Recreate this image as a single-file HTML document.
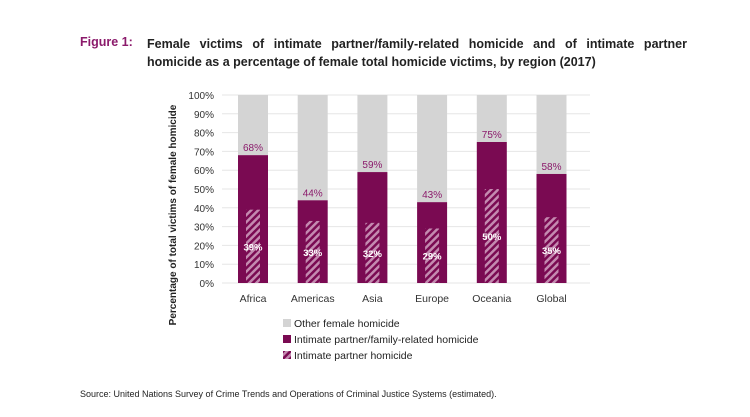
<!DOCTYPE html>
<html><head><meta charset="utf-8"><style>
body{margin:0;width:750px;height:417px;background:#fff;font-family:"Liberation Sans",sans-serif;overflow:hidden;position:relative}
.t{position:absolute;font-size:12.5px;font-weight:bold;color:#222}
</style></head><body>
<div class="t" style="left:80px;top:35px;color:#8b1a6b">Figure 1:</div>
<div class="t" style="left:147px;top:35px;width:540px;line-height:18px;text-align:justify">Female victims of intimate partner/family-related homicide and of intimate partner homicide as a percentage of female total homicide victims, by region (2017)</div>
<svg width="750" height="417" style="position:absolute;left:0;top:0">
<defs><pattern id="h" width="5" height="5" patternUnits="userSpaceOnUse" patternTransform="rotate(45)"><rect width="5" height="5" fill="#7a0a52"/><rect width="2.5" height="5" fill="#c48ab0"/></pattern></defs>
<g id="g"></g>
<text x="0" y="0" transform="translate(176,215) rotate(-90)" text-anchor="middle" font-size="10" font-weight="bold" fill="#222">Percentage of total victims of female homicide</text>
<g font-size="10.5" fill="#222">
<rect x="283" y="319" width="8" height="8" fill="#d4d4d4"/><text x="294" y="327">Other female homicide</text>
<rect x="283" y="335" width="8" height="8" fill="#7a0a52"/><text x="294" y="343">Intimate partner/family-related homicide</text>
<rect x="283" y="351" width="8" height="8" fill="url(#h)"/><text x="294" y="359">Intimate partner homicide</text>
</g>
<text x="80" y="397" font-size="9" fill="#222">Source: United Nations Survey of Crime Trends and Operations of Criminal Justice Systems (estimated).</text>
</svg>
<script>
const categories=["Africa","Americas","Asia","Europe","Oceania","Global"];
const familyValues=[68,44,59,43,75,58];
const partnerValues=[39,33,32,29,50,35];
const yTicks=[0,10,20,30,40,50,60,70,80,90,100];
const NS="http://www.w3.org/2000/svg",g=document.getElementById('g');
const y=v=>283-v*1.88, x=i=>253+i*59.7;
function el(t,a,txt){const e=document.createElementNS(NS,t);for(const k in a)e.setAttribute(k,a[k]);if(txt!=null)e.textContent=txt;g.appendChild(e);return e;}
yTicks.forEach(v=>{
const l=el('line',{x1:222,x2:590,y1:y(v),y2:y(v),stroke:'#e6e6e6'});


const t=el('text',{x:214,y:y(v)+4,'text-anchor':'end','font-size':10,fill:'#333'},v+'%');


});
categories.forEach((c,i)=>{
const cx=x(i);
const o=el('rect',{x:cx-15,y:y(100),width:30,height:y(familyValues[i])-y(100),fill:'#d4d4d4'});


const f=el('rect',{x:cx-15,y:y(familyValues[i]),width:30,height:y(0)-y(familyValues[i]),fill:'#7a0a52'});


const p=el('rect',{x:cx-7,y:y(partnerValues[i]),width:14,height:y(0)-y(partnerValues[i]),fill:'url(#h)'});


const fl=el('text',{x:cx,y:y(familyValues[i])-4,'text-anchor':'middle','font-size':10,fill:'#8b1a6b'},familyValues[i]+'%');


const pl=el('text',{x:cx,y:y(partnerValues[i]/2)+4,'text-anchor':'middle','font-size':9.5,'font-weight':'bold',fill:'#fff'},partnerValues[i]+'%');


const xl=el('text',{x:cx,y:302,'text-anchor':'middle','font-size':10.5,fill:'#333'},c);


});
</script>
</body></html>
